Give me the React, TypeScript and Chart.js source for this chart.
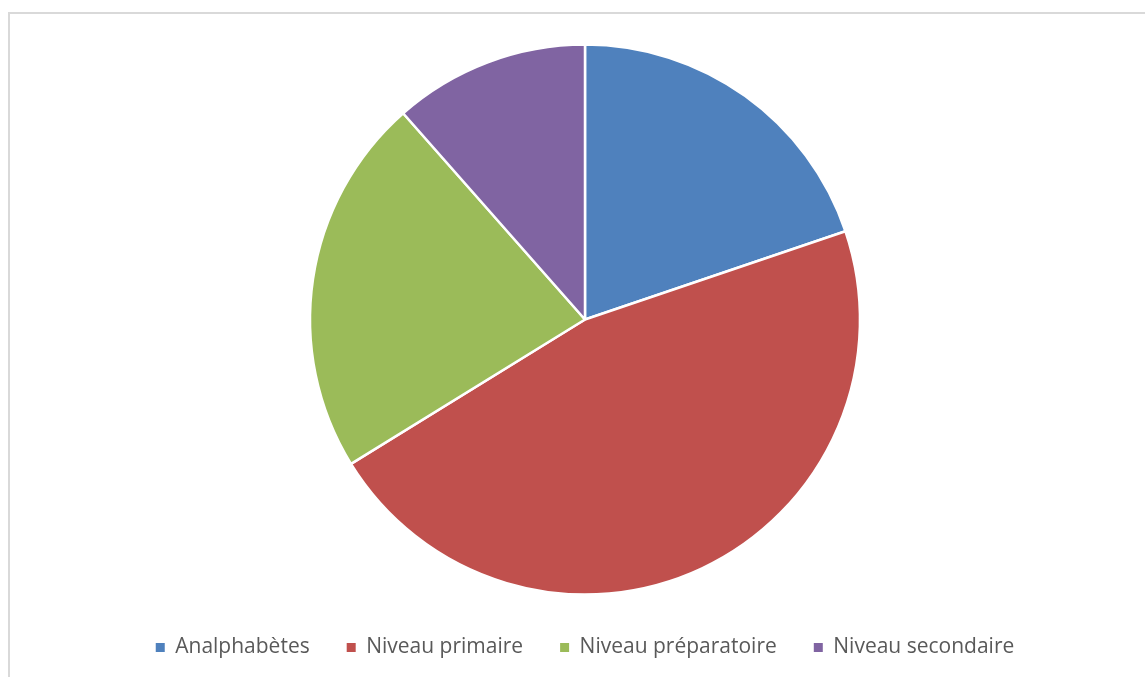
import React, { useEffect, useRef } from "react";
import { Chart, registerables } from "chart.js";

Chart.register(...registerables);

const categories = ["Analphabètes", "Niveau primaire", "Niveau préparatoire", "Niveau secondaire"];
const values = [19.8, 46.4, 22.3, 11.5];
const colors = ["#4F81BD", "#C0504D", "#9BBB59", "#8064A2"];

export default function App() {
  const ref = useRef<HTMLCanvasElement | null>(null);

  useEffect(() => {
    if (!ref.current) return;
    const defaultGen = (Chart.overrides as any).pie.plugins.legend.labels.generateLabels;
    const chart = new Chart(ref.current, {
      type: "pie",
      data: {
        labels: categories,
        datasets: [
          {
            data: values,
            backgroundColor: colors,
            borderColor: "#ffffff",
            borderWidth: 2.5,
            radius: 275,
          } as any,
        ],
      },
      options: {
        responsive: false,
        animation: false,
        devicePixelRatio: 1,
        layout: { padding: { left: 25, right: 0, top: 39, bottom: 52 } },
        plugins: {
          tooltip: { enabled: false },
          legend: {
            position: "bottom",
            labels: {
              boxWidth: 9,
              boxHeight: 9,
              padding: 37,
              color: "#595959",
              font: { family: "'Open Sans', sans-serif", size: 21 },
              generateLabels: (c: any) =>
                defaultGen(c).map((l: any) => ({ ...l, lineWidth: 0, strokeStyle: "rgba(0,0,0,0)" })),
            },
          },
        },
      },
    });
    return () => chart.destroy();
  }, []);

  return (
    <div>
      <div
        style={{
          position: "fixed",
          left: 8,
          top: 12,
          width: 1160,
          height: 720,
          border: "2px solid #d9d9d9",
          boxSizing: "border-box",
        }}
      />
      <canvas
        ref={ref}
        width={1145}
        height={720}
        style={{ position: "fixed", left: 0, top: 0, width: 1145, height: 720 }}
      />
    </div>
  );
}
